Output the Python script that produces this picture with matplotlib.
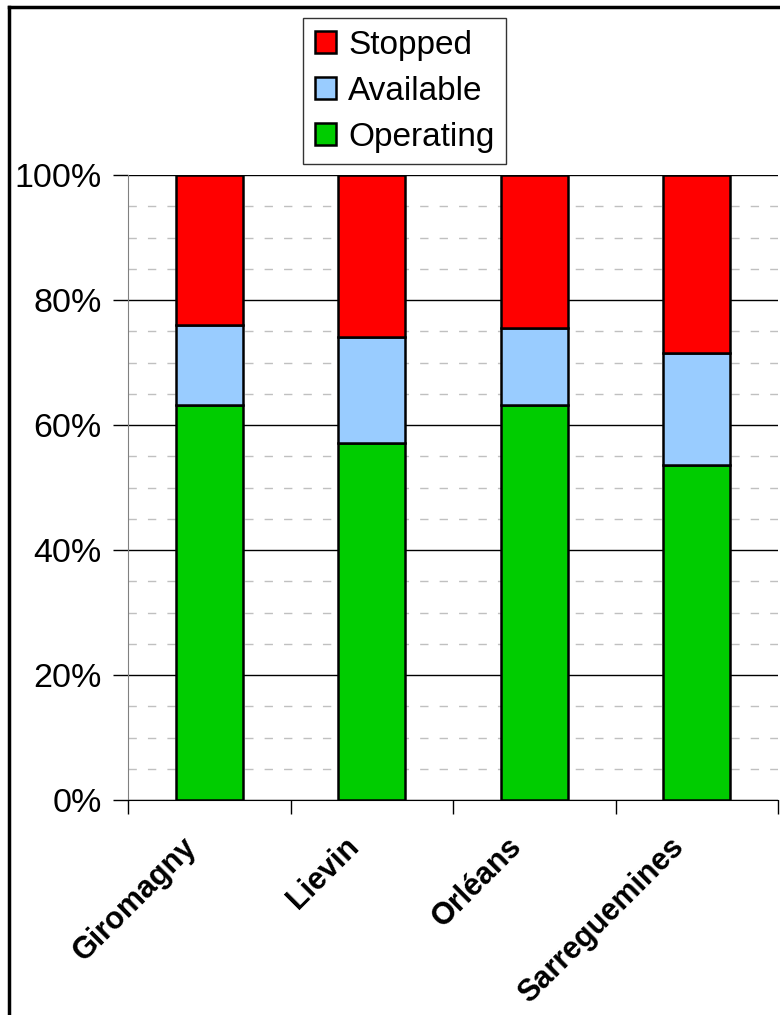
import matplotlib.pyplot as plt
from matplotlib.lines import Line2D
from matplotlib.ticker import FixedLocator, PercentFormatter
from matplotlib.transforms import ScaledTranslation

plt.rcParams['font.family'] = ['Liberation Sans', 'DejaVu Sans']

# data (percent of time)
sites = ['Giromagny', 'Lievin', 'Orléans', 'Sarreguemines']
operating = [63.2, 57.1, 63.2, 53.6]
available = [12.8, 17.0, 12.3, 17.9]
stopped = [24.0, 25.9, 24.5, 28.5]

fig = plt.figure(figsize=(7.8, 10.15), dpi=100)
ax = fig.add_axes([128 / 780, 215 / 1015, 650 / 780, 625 / 1015])

x = range(len(sites))
w = 0.41
b1 = ax.bar(x, operating, w, color='#00cc00', edgecolor='black', linewidth=1.8, zorder=3)
bottom2 = operating
b2 = ax.bar(x, available, w, bottom=bottom2, color='#99ccff', edgecolor='black', linewidth=1.8, zorder=3)
bottom3 = [o + a for o, a in zip(operating, available)]
b3 = ax.bar(x, stopped, w, bottom=bottom3, color='#ff0000', edgecolor='black', linewidth=1.8, zorder=3)

ax.set_xlim(-0.5, len(sites) - 0.5)
ax.set_ylim(0, 100)

# gridlines
ax.yaxis.set_major_locator(FixedLocator([0, 20, 40, 60, 80, 100]))
ax.yaxis.set_minor_locator(FixedLocator([v for v in range(5, 100, 5) if v % 20]))
ax.yaxis.set_major_formatter(PercentFormatter(decimals=0))
ax.grid(axis='y', which='major', color='black', linewidth=1, zorder=1)
ax.grid(axis='y', which='minor', color='#c0c0c0', linestyle=(0, (6, 8)), linewidth=1, zorder=1)
ax.tick_params(axis='y', which='major', length=11, width=1, labelsize=24.5, pad=8)
ax.tick_params(axis='y', which='minor', length=0)

# x ticks at category boundaries, labels at centres
ax.xaxis.set_major_locator(FixedLocator([i - 0.5 for i in range(len(sites) + 1)]))
ax.xaxis.set_minor_locator(FixedLocator(list(x)))
ax.set_xticklabels([])
ax.set_xticklabels(sites, minor=True, rotation=45, ha='right', va='center',
                   rotation_mode='anchor', fontsize=22, fontweight='bold')
ax.tick_params(axis='x', which='major', length=10, width=1)
ax.tick_params(axis='x', which='minor', length=0, pad=26)
shift = ScaledTranslation(-0.17, -0.06, fig.dpi_scale_trans)
for lab in ax.get_xticklabels(minor=True):
    lab.set_transform(lab.get_transform() + shift)

for s in ['top', 'right']:
    ax.spines[s].set_visible(False)
ax.spines['left'].set_color('#808080')
ax.spines['bottom'].set_color('black')

leg = fig.legend([b3, b2, b1], ['Stopped', 'Available', 'Operating'],
                 loc='upper left', bbox_to_anchor=(303 / 780, 1 - 18 / 1015),
                 fontsize=24, frameon=True, fancybox=False, edgecolor='black',
                 handlelength=0.65, handleheight=0.65, handletextpad=0.35,
                 labelspacing=0.45, borderpad=0.35, borderaxespad=0)
leg.get_frame().set_linewidth(1)

# outer frame (top and left only visible)
fig.add_artist(Line2D([9 / 780, 9 / 780], [0, 1 - 7 / 1015], color='black', linewidth=2.5))
fig.add_artist(Line2D([9 / 780, 1], [1 - 7 / 1015, 1 - 7 / 1015], color='black', linewidth=2.5))

fig.savefig('out.png', dpi=100)
